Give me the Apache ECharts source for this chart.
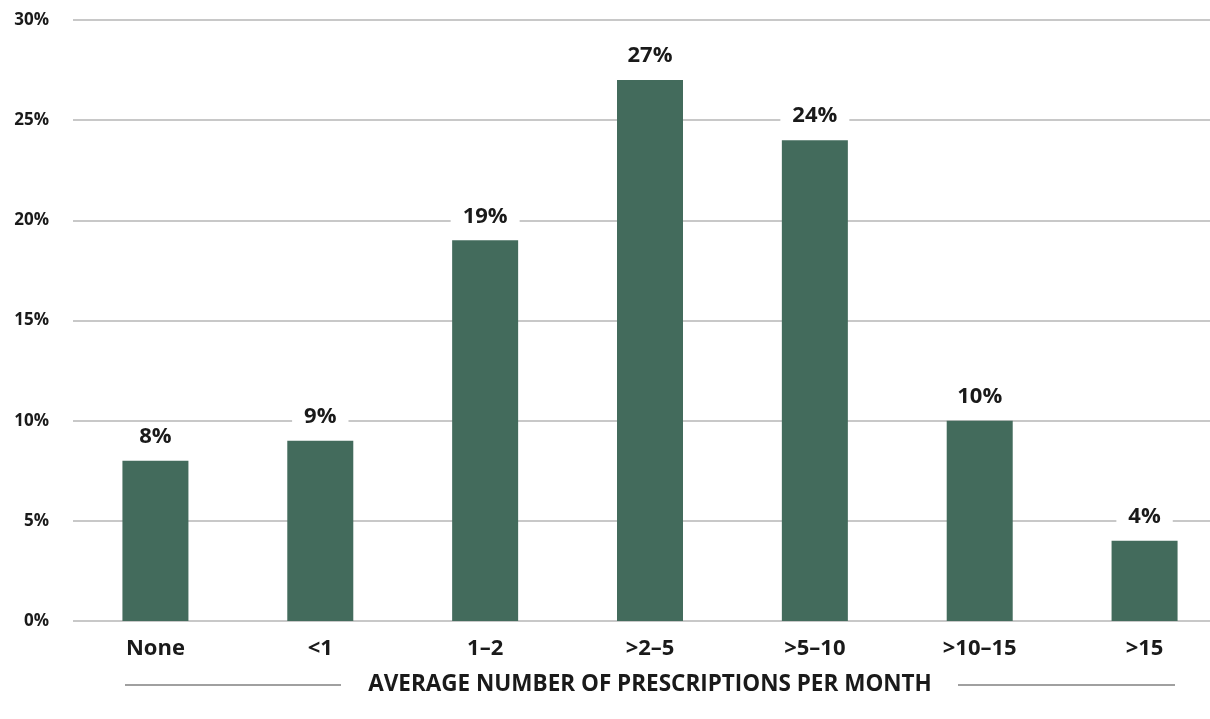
<!DOCTYPE html>
<html><head><meta charset="utf-8">
<script src="https://cdn.jsdelivr.net/npm/echarts@6/dist/echarts.min.js"></script>
<style>html,body{margin:0;padding:0;background:#fff;overflow:hidden}#c{width:1227px;height:719px}</style>
</head><body><div id="c"></div>
<script>
const categories = ['None', '<1', '1–2', '>2–5', '>5–10', '>10–15', '>15'];
const values = [8, 9, 19, 27, 24, 10, 4];
const yTicks = [0, 5, 10, 15, 20, 25, 30];
const axisTitle = 'AVERAGE NUMBER OF PRESCRIPTIONS PER MONTH';

const FONT = 'Open Sans';
const chart = echarts.init(document.getElementById('c'));
chart.setOption({
  animation: false,
  textStyle: { fontFamily: FONT },
  grid: { left: 73, top: 20, right: 0, bottom: 98 },
  xAxis: {
    type: 'category', data: categories,
    axisLine: { show: false }, axisTick: { show: false },
    axisLabel: { color: '#1a1a1a', fontWeight: 'bold', fontSize: 22, fontFamily: FONT, margin: 17 }
  },
  yAxis: {
    type: 'value', min: yTicks[0], max: yTicks[yTicks.length - 1], interval: 5,
    axisLine: { show: false }, axisTick: { show: false },
    splitLine: { lineStyle: { color: '#c8c8c8', width: 2 } },
    axisLabel: { color: '#1a1a1a', fontWeight: 'bold', fontSize: 17, fontFamily: FONT, margin: 24, formatter: v => v + '%' }
  },
  series: [{
    type: 'bar', data: values, barWidth: 66,
    itemStyle: { color: '#436b5c' },
    label: {
      show: true, position: 'top', distance: 13,
      formatter: p => p.value + '%',
      color: '#1a1a1a', fontWeight: 'bold', fontSize: 22, fontFamily: FONT,
      backgroundColor: '#fff', padding: [0, 12]
    }
  }],
  graphic: [
    { type: 'text', x: 650, y: 685, style: { text: axisTitle, fontFamily: FONT, fontWeight: 'bold', fontSize: 22.5, fill: '#1a1a1a', align: 'center', verticalAlign: 'middle' } },
    { type: 'line', shape: { x1: 125, y1: 685, x2: 341, y2: 685 }, style: { stroke: '#a0a0a0', lineWidth: 2 } },
    { type: 'line', shape: { x1: 958, y1: 685, x2: 1175, y2: 685 }, style: { stroke: '#a0a0a0', lineWidth: 2 } }
  ]
});
</script></body></html>
